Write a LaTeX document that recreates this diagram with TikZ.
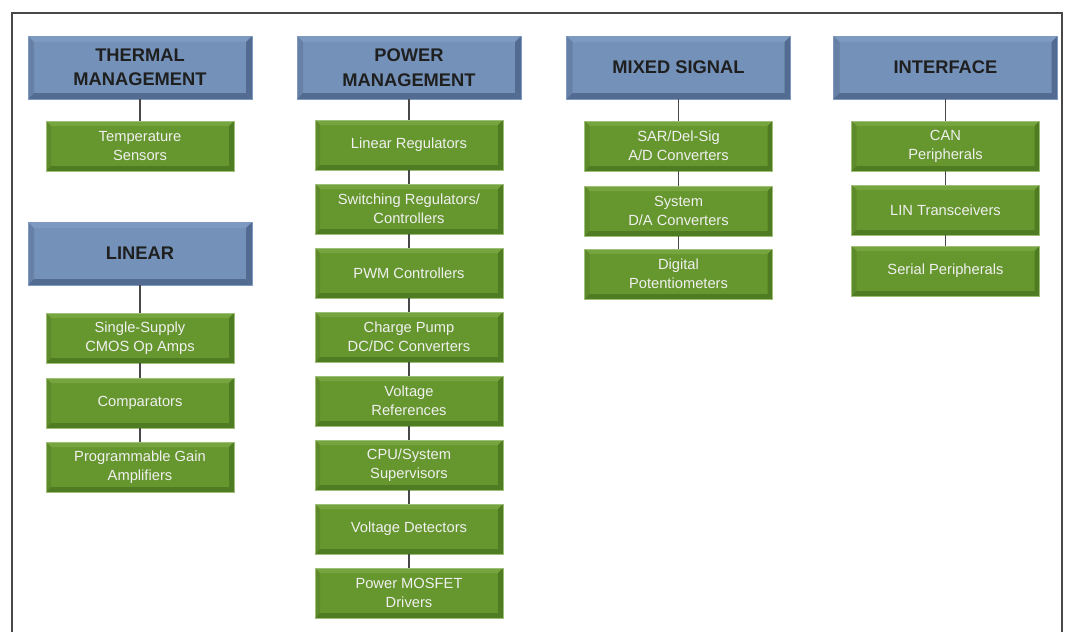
\documentclass[tikz,border=0pt]{standalone}
\usepackage{fontspec}
\setmainfont{Liberation Sans}
\usetikzlibrary{calc}
\definecolor{headface}{HTML}{7391B9}
\definecolor{headtop}{HTML}{7E9AC0}
\definecolor{headleft}{HTML}{6680A6}
\definecolor{headdark}{HTML}{536B91}
\definecolor{itemface}{HTML}{66962E}
\definecolor{itemtop}{HTML}{76A43E}
\definecolor{itemleft}{HTML}{5D8A2A}
\definecolor{itemdark}{HTML}{4F7C22}
\definecolor{linkgray}{HTML}{484848}
\tikzset{
  bevel/.style n args={5}{path picture={
    \path (path picture bounding box.south west) coordinate (pa)
          (path picture bounding box.north east) coordinate (pb);
    \fill[#2] (pa |- pb) -- ($(pa |- pb)+(#1,-#1)$) -- ($(pb)+(-#1,-#1)$) -- (pb) -- cycle;
    \fill[#3] (pa) -- ($(pa)+(#1,#1)$) -- ($(pa |- pb)+(#1,-#1)$) -- (pa |- pb) -- cycle;
    \fill[#4] (pa -| pb) -- ($(pa -| pb)+(-#1,#1)$) -- ($(pb)+(-#1,-#1)$) -- (pb) -- cycle;
    \fill[#5] (pa) -- ($(pa)+(#1,#1)$) -- ($(pa -| pb)+(-#1,#1)$) -- (pa -| pb) -- cycle;
  }},
  head/.style={fill=headface, draw=headtop, line width=0.6pt,
    minimum width=224pt, minimum height=63pt, inner sep=0pt,
    align=center, text=black!88, font=\fontsize{18.3}{24.5}\selectfont\bfseries,
    bevel={6pt}{headtop}{headleft}{headdark}{headdark}},
  item/.style={fill=itemface, draw=itemtop!70!white, line width=0.6pt,
    minimum width=188pt, minimum height=50pt, inner sep=0pt,
    align=center, text=white!94!black, font=\fontsize{14.7}{19}\selectfont,
    bevel={5pt}{itemtop}{itemleft}{itemdark}{itemdark}},
  link/.style={draw=linkgray, line width=1.3pt}
}
\begin{document}
\begin{tikzpicture}[x=1pt,y=1pt]
  \useasboundingbox (0,0) rectangle (1074,-632);
  \draw[linkgray, line width=1.5pt] (12,-640) -- (12,-13) -- (1062,-13) -- (1062,-640);

  % thermal management
  \node[head] (thermal) at (140,-67.5) {THERMAL\\MANAGEMENT};
  \node[item] (temp) at (140,-146) {Temperature\\Sensors};
  \draw[link] (thermal) -- (temp);

  % linear
  \node[head] (linear) at (140,-253.5) {LINEAR};
  \node[item] (opamp) at (140,-338) {Single-Supply\\CMOS Op Amps};
  \node[item] (comp) at (140,-403) {Comparators};
  \node[item] (pga) at (140,-467) {Programmable Gain\\Amplifiers};
  \draw[link] (linear) -- (opamp) -- (comp) -- (pga);

  % power management
  \node[head] (power) at (409,-67.5) {POWER\\MANAGEMENT};
  \foreach \t [count=\i] in {{Linear Regulators},{Switching Regulators/\\Controllers},
      {PWM Controllers},{Charge Pump\\DC/DC Converters},{Voltage\\References},
      {CPU/System\\Supervisors},{Voltage Detectors},{Power MOSFET\\Drivers}} {
    \node[item] (pw\i) at (409,{-145-64*(\i-1)}) {\t};
  }
  \draw[link] (power) -- (pw1);
  \foreach \i [evaluate=\i as \j using int(\i+1)] in {1,...,7} {
    \draw[link] (pw\i) -- (pw\j);
  }

  % mixed signal
  \node[head] (mixed) at (678.5,-67.5) {MIXED SIGNAL};
  \node[item] (adc) at (678.5,-146) {SAR/Del-Sig\\A/D Converters};
  \node[item] (dac) at (678.5,-211) {System\\D/A Converters};
  \node[item] (pot) at (678.5,-274) {Digital\\Potentiometers};
  \draw[link] (mixed) -- (adc) -- (dac) -- (pot);

  % interface
  \node[head] (iface) at (945.5,-67.5) {INTERFACE};
  \node[item] (can) at (945.5,-146) {CAN\\Peripherals};
  \node[item] (lin) at (945.5,-210) {LIN Transceivers};
  \node[item] (serial) at (945.5,-271) {Serial Peripherals};
  \draw[link] (iface) -- (can) -- (lin) -- (serial);
\end{tikzpicture}
\end{document}
